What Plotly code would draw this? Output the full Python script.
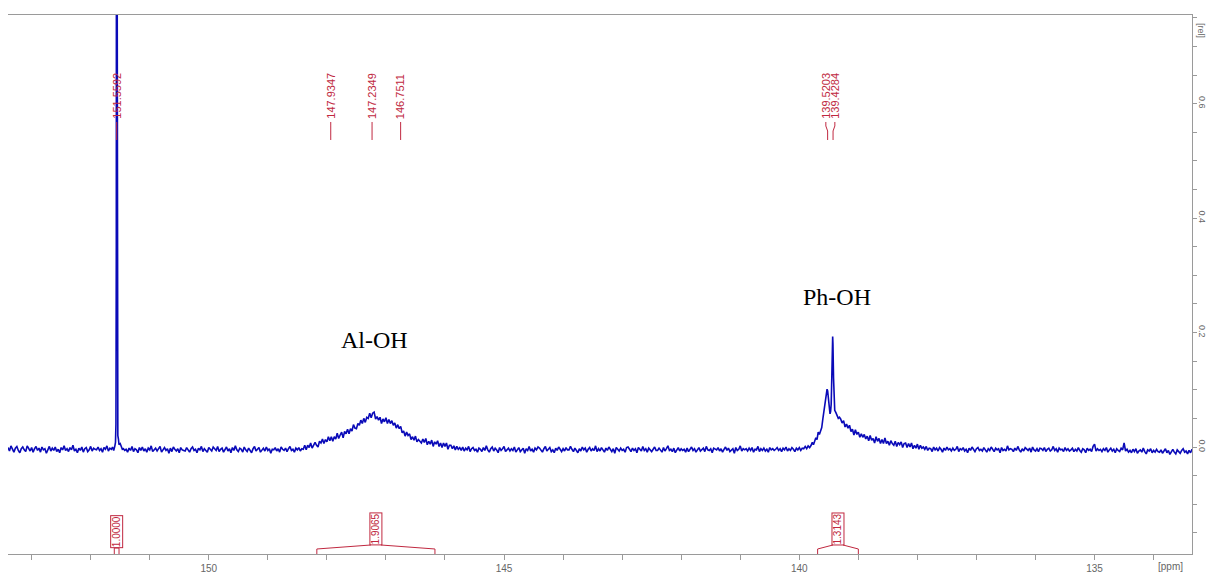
import plotly.graph_objects as go

# ---------------- data ----------------
# Spectrum sampled every 0.025 ppm starting at 153.40 ppm (values in 1/1000 rel units);
# each row below spans 0.5 ppm, its first ppm given in the comment.
grid_start_ppm = 153.40
grid_step_ppm = 0.025
intensity_milli = [
    -1, -7, 2, -4, -9, -2, 1, -6, -10, -3, 0, -5, -8, 2, -4, -7, -1, -9, -3, 1,        # 153.40
    -6, -2, -9, 0, -5, -3, -11, -4, 1, -7, -2, -6, 0, -8, -4, -10, -1, -5, 2, -6,      # 152.90
    -3, -8, -1, -5, 3, -7, -4, -10, -2, -6, 0, -9, -3, -1, -8, -5, 1, -7, -2, -4,      # 152.40
    -5, 0, -6, -3, -9, -1, -4, 2, -7, -2, 0, 0, 0, 0, 0, 0, 0, 0, -2, -6,              # 151.90
    -4, -9, -2, -6, 1, -8, -3, -5, -10, -1, -6, 0, -7, -3, -9, -2, -5, 2, -8, -4,      # 151.40
    -2, -7, -4, 1, -9, -5, -1, -6, -3, -11, -2, -8, 0, -4, -7, -3, -10, -1, -5, -6,    # 150.90
    -7, -1, -5, -9, -3, 0, -6, -4, -10, -2, -5, 1, -8, -3, -6, -9, -1, -4, -7, 0,      # 150.40
    -3, -6, 1, -8, -4, -2, -9, -5, 0, -7, -3, -10, -1, -6, 2, -5, -8, -2, -4, -9,      # 149.90
    0, -5, -8, -2, -6, -10, -3, 1, -7, -4, -1, -9, -5, -2, -7, 0, -6, -3, -11, -4,     # 149.40
    -5, -1, -7, -3, -9, 0, -4, -6, -2, -8, -3, 1, -6, -4, -9, -2, -5, -1, -7, -3,      # 148.90
    -4, 3, -5, 3, -1, 7, -2, 4, 8, 3, 0, 10, 7, 14, 6, 13, 9, 18, 11, 18,              # 148.40
    10, 18, 14, 24, 15, 21, 26, 16, 27, 23, 31, 23, 32, 28, 39, 33, 32, 41, 38, 47,    # 147.90
    41, 50, 43, 52, 50, 59, 51, 59, 61, 49, 53, 47, 52, 41, 49, 44, 51, 41, 48, 41,    # 147.40
    46, 38, 42, 33, 39, 32, 36, 25, 28, 19, 26, 20, 23, 13, 18, 12, 19, 9, 13, 10,     # 146.90
    7, 14, 8, 15, 4, 10, 5, 12, 1, 9, 5, 11, 1, 7, -1, 7, 1, 7, -4, 3,                 # 146.40
    3, -3, 2, -5, 1, -4, -1, -6, 0, -7, -2, -5, 1, -8, -3, -1, -6, -4, -9, -2,         # 145.90
    -4, -8, -1, -6, 2, -5, -9, -3, 0, -7, -2, -5, -10, -1, -6, -3, 1, -8, -4, -2,      # 145.40
    -7, -3, -6, 0, -9, -4, -1, -8, -5, -2, -11, -3, -6, 1, -7, -4, -9, -2, -5, 0,      # 144.90
    -2, -6, -9, -3, 1, -7, -4, -1, -8, -5, -10, -2, -6, 0, -4, -8, -3, -7, -1, -5,     # 144.40
    -5, 1, -4, -8, -2, -6, -10, -3, -7, 0, -5, -2, -9, -4, -1, -7, -3, -6, 2, -8,      # 143.90
    -3, -7, -1, -5, -9, -2, -6, 0, -4, -8, -3, -11, -1, -5, -7, -2, -6, -4, -9, -1,    # 143.40
    0, -4, -8, -2, -6, -3, -10, -1, -5, -7, 1, -6, -3, -9, -2, -5, -8, -4, 0, -6,      # 142.90
    -6, -2, -5, -9, -1, -7, -3, 2, -6, -4, -8, -2, -10, -5, -1, -7, -3, -6, -4, -9,    # 142.40
    -2, -8, -4, 0, -6, -3, -9, -5, -1, -7, -4, -2, -8, 1, -5, -6, -3, -10, -2, -4,     # 141.90
    -5, -1, -7, -3, -9, -4, 0, -6, -2, -8, -5, -3, -11, -1, -6, -4, 2, -7, -3, -5,     # 141.40
    -3, -7, -2, -6, -1, -9, -4, -5, 1, -8, -3, -6, -2, -7, -4, -9, -1, -5, -3, -6,     # 140.90
    -4, -1, -6, -3, -8, -2, -5, 0, -7, -3, -6, -1, -4, -8, -2, -5, -1, -6, -2, -3,     # 140.40
    1, -3, 2, -1, 3, 8, 4, 12, 16, 13, 26, 22, 30, 34, 50, 66, 80, 94, 98, 80,         # 139.90
    70, 60, 56, 52, 49, 42, 46, 35, 40, 33, 38, 27, 31, 21, 30, 22, 26, 17, 23, 17,    # 139.40
    22, 14, 19, 11, 20, 12, 15, 7, 18, 10, 15, 6, 13, 6, 16, 6, 10, 3, 11, 6,          # 138.90
    3, 10, 1, 8, 4, 9, -1, 6, 7, -1, 6, 0, 7, -3, 3, -2, 5, -4, 3, -2,                 # 138.40
    0, -4, 1, -6, -2, -3, -8, 0, -5, -2, -7, -1, -4, -9, -2, -6, 0, -5, -3, -7,        # 137.90
    -2, -6, -4, 1, -8, -3, -5, -1, -7, -4, -10, -2, -6, 0, -5, -8, -3, -1, -6, -4,     # 137.40
    -7, -1, -5, -9, -3, -6, 0, -4, -8, -2, -5, -3, -10, -1, -6, -4, -7, 2, -5, -3,     # 136.90
    -4, -8, -2, -6, 1, -5, -9, -3, -7, -1, -4, -6, -2, -9, 0, -5, -7, -3, -8, -2,      # 136.40
    -3, -6, -1, -8, -4, -2, -7, -5, 1, -6, -3, -9, -2, -5, -4, -8, -1, -6, -3, -7,     # 135.90
    -5, -2, -8, -4, -7, -1, -6, -9, -3, -5, -10, -2, -6, -4, -8, 1, 5, -7, -3, -6,     # 135.40
    -4, -8, -3, -6, -1, -9, -5, -2, -7, -4, -10, -3, -6, -8, -2, -5, 7, -7, -4, -9,    # 134.90
    -6, -10, -4, -8, -3, -11, -7, -5, -9, -2, -8, -12, -5, -7, -3, -10, -6, -9, -4, -8,  # 134.40
    -9, -5, -11, -7, -3, -10, -6, -13, -8, -4, -9, -12, -5, -8, -11, -6, -3, -9, -7, -12,  # 133.90
    -6, -10, -4, -9, -12, -7, -5, -11, -8, -6, -10, -4, -9, -7, -12, -5, -8, -10, -6, -9,  # 133.40
]

# finely sampled detail: reference peak at 151.56 ppm
bigpeak_ppm = [151.65, 151.63, 151.61, 151.59, 151.58, 151.572, 151.566, 151.562,
               151.558, 151.554, 151.55, 151.545, 151.54, 151.53, 151.52, 151.50,
               151.48, 151.46]
bigpeak_rel = [-0.004, 0.000, -0.006, 0.002, 0.008, 0.040, 0.350, 1.600,
               1.600, 0.300, 0.060, 0.035, 0.020, 0.014, 0.004, 0.006,
               -0.002, -0.005]

# finely sampled detail: Ph-OH region
phoh_ppm = [139.80, 139.78, 139.76, 139.74, 139.72, 139.70, 139.68, 139.66, 139.64,
            139.62, 139.60, 139.58, 139.56, 139.54, 139.53, 139.52, 139.50, 139.49,
            139.48, 139.47, 139.46, 139.45, 139.44, 139.435, 139.43, 139.42, 139.41,
            139.40, 139.38, 139.36, 139.34, 139.32]
phoh_rel = [0.003, 0.008, 0.004, 0.012, 0.016, 0.013, 0.026, 0.022, 0.030,
            0.034, 0.050, 0.066, 0.080, 0.094, 0.101, 0.098, 0.080, 0.066,
            0.058, 0.062, 0.075, 0.120, 0.175, 0.193, 0.180, 0.120, 0.072,
            0.064, 0.060, 0.054, 0.050, 0.052]

peak_labels = [151.5592, 147.9347, 147.2349, 146.7511, 139.5203, 139.4284]

integral_left = [151.60, 148.17, 139.69]
integral_right = [151.52, 146.17, 139.00]
integral_values = ["1.0000", "1.9065", "1.3143"]

group_names = ["Al-OH", "Ph-OH"]
group_ppm = [147.20, 139.37]
group_rel = [0.187, 0.263]

x_tick_values = [150, 145, 140, 135]
y_tick_values = [0.0, 0.2, 0.4, 0.6]

# ---------------- build spectrum ----------------
detail_ranges = [(min(bigpeak_ppm), max(bigpeak_ppm)), (min(phoh_ppm), max(phoh_ppm))]
pts = []
for i, v in enumerate(intensity_milli):
    p = round(grid_start_ppm - grid_step_ppm * i, 4)
    if any(lo <= p <= hi for lo, hi in detail_ranges):
        continue
    pts.append((p, v / 1000.0))
pts += list(zip(bigpeak_ppm, bigpeak_rel))
pts += list(zip(phoh_ppm, phoh_rel))
pts.sort(key=lambda t: -t[0])
spec_x = [p for p, _ in pts]
spec_y = [v for _, v in pts]

# ---------------- layout constants ----------------
W, H = 1208, 573
M_L, M_R, M_T, M_B = 8, 16, 15, 19
X_RANGE = [153.40, 133.35]
Y_RANGE = [-0.187, 0.755]
PLOT_W = W - M_L - M_R
PLOT_H = H - M_T - M_B
px_per_ppm = PLOT_W / (X_RANGE[0] - X_RANGE[1])

RED = "#c02840"
BLUE = "#0a0ab8"
GRAY = "#666666"
AXIS = "#9a9a9a"

fig = go.Figure()
fig.add_trace(go.Scatter(x=spec_x, y=spec_y, mode="lines",
                         line=dict(color=BLUE, width=1.6), hoverinfo="skip",
                         showlegend=False))

annotations = []
shapes = []

def paper_y(px):
    return (H - M_B - px) / PLOT_H

# ---- peak labels with spreading of close labels ----
lab_px = [(X_RANGE[0] - p) * px_per_ppm for p in peak_labels]
shifts = [0.0] * len(peak_labels)
MIN_SEP = 9.0
order = sorted(range(len(peak_labels)), key=lambda k: lab_px[k])
for a, b in zip(order[:-1], order[1:]):
    d = lab_px[b] - lab_px[a]
    if d < MIN_SEP:
        extra = (MIN_SEP - d) / 2
        shifts[a] -= extra
        shifts[b] += extra

text_bottom = paper_y(121)
y_a, y_b, y_c, y_d = paper_y(122), paper_y(126), paper_y(131), paper_y(140)
for p, s in zip(peak_labels, shifts):
    annotations.append(dict(x=p, y=text_bottom, xref="x", yref="paper", xshift=s,
                            text=f"{p:.4f}", textangle=-90, showarrow=False,
                            xanchor="center", yanchor="bottom",
                            font=dict(family="Liberation Sans, Arial", size=11, color=RED)))
    shapes.append(dict(type="path", xref="x", yref="paper", xsizemode="pixel", xanchor=p,
                       path=f"M {s:.2f},{y_a:.4f} L {s:.2f},{y_b:.4f} L 0,{y_c:.4f} L 0,{y_d:.4f}",
                       line=dict(color=RED, width=1)))

# ---- integrals ----
hw = 5.0 / px_per_ppm
for xl, xr, val in zip(integral_left, integral_right, integral_values):
    xc = (xl + xr) / 2
    width_px = (xl - xr) * px_per_ppm
    if width_px > 14:
        box_bottom = paper_y(545)
        foot = paper_y(549)
        path = (f"M {xl},0 L {xl},{foot:.4f} L {xc + hw:.4f},{box_bottom:.4f} "
                f"M {xc - hw:.4f},{box_bottom:.4f} L {xr},{foot:.4f} L {xr},0")
    else:
        box_bottom = paper_y(548)
        path = f"M {xl},0 L {xl},{box_bottom:.4f} L {xr},{box_bottom:.4f} L {xr},0"
    shapes.append(dict(type="path", xref="x", yref="paper", path=path,
                       line=dict(color=RED, width=1)))
    annotations.append(dict(x=xc, y=box_bottom, xref="x", yref="paper",
                            text=val, textangle=-90, showarrow=False,
                            xanchor="center", yanchor="bottom",
                            bordercolor=RED, borderwidth=1, borderpad=0,
                            font=dict(family="Liberation Sans, Arial", size=10, color=RED)))

# ---- group names ----
for name, gx, gy in zip(group_names, group_ppm, group_rel):
    annotations.append(dict(x=gx, y=gy, xref="x", yref="y", text=name, showarrow=False,
                            font=dict(family="Liberation Serif, Times New Roman", size=24,
                                      color="black")))

# ---- unit labels ----
annotations.append(dict(x=(1170 - M_L) / PLOT_W, y=paper_y(566), xref="paper", yref="paper",
                        text="[ppm]", showarrow=False, xanchor="center", yanchor="middle",
                        font=dict(family="Liberation Sans, Arial", size=10, color=GRAY)))
annotations.append(dict(x=(1201 - M_L) / PLOT_W, y=paper_y(30), xref="paper", yref="paper",
                        text="[rel]", showarrow=False, textangle=90,
                        xanchor="center", yanchor="middle",
                        font=dict(family="Liberation Sans, Arial", size=9, color=GRAY)))

fig.update_layout(
    width=W, height=H,
    margin=dict(l=M_L, r=M_R, t=M_T, b=M_B, pad=0, autoexpand=False),
    paper_bgcolor="white", plot_bgcolor="white",
    showlegend=False,
    annotations=annotations, shapes=shapes,
    xaxis=dict(range=X_RANGE, tickmode="array", tickvals=x_tick_values,
               ticktext=[str(v) for v in x_tick_values], automargin=False,
               ticks="outside", ticklen=5, tickcolor=AXIS,
               minor=dict(dtick=1, ticks="outside", ticklen=5, tickcolor=AXIS),
               showline=True, linecolor=AXIS, linewidth=1, mirror=True,
               showgrid=False, zeroline=False,
               tickfont=dict(family="Liberation Sans, Arial", size=10, color=GRAY)),
    yaxis=dict(range=Y_RANGE, side="right", tickmode="array", tickvals=y_tick_values,
               ticktext=[f"{v:.1f}" for v in y_tick_values], tickangle=90, automargin=False,
               ticks="outside", ticklen=4, tickcolor=AXIS, ticklabelstandoff=-2,
               minor=dict(tick0=0, dtick=0.05, ticks="outside", ticklen=4, tickcolor=AXIS),
               showline=True, linecolor=AXIS, linewidth=1, mirror=False,
               showgrid=False, zeroline=False,
               tickfont=dict(family="Liberation Sans, Arial", size=9, color=GRAY)),
)

fig.write_html("out.html")
